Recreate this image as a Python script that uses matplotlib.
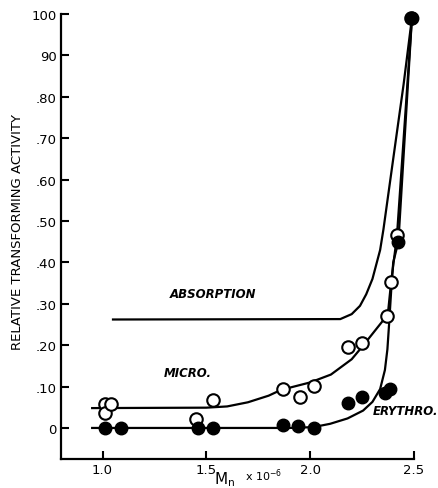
import matplotlib
matplotlib.use("Agg")
import matplotlib.pyplot as plt

# Data points
micro_x = [1.01, 1.01, 1.04, 1.45, 1.53, 1.87, 1.95, 2.02, 2.18, 2.25, 2.37, 2.39, 2.42, 2.485]
micro_y = [5.8, 3.6, 5.8, 2.2, 6.7, 9.5, 7.5, 10.2, 19.5, 20.5, 27.0, 35.2, 46.6, 99.0]
ery_x = [1.01, 1.09, 1.46, 1.53, 1.87, 1.94, 2.02, 2.18, 2.25, 2.36, 2.385, 2.425, 2.49]
ery_y = [0.0, 0.0, 0.0, 0.0, 0.6, 0.5, 0.0, 6.0, 7.5, 8.5, 9.3, 45.0, 99.0]

# Fitted curves
abs_cx = [1.045, 2.145, 2.20, 2.24, 2.27, 2.30, 2.337, 2.353, 2.40, 2.45, 2.49]
abs_cy = [26.2, 26.3, 27.5, 29.5, 32.3, 36.0, 43.0, 48.0, 65.0, 83.0, 99.0]
micro_cx = [0.95, 1.5, 1.6, 1.7, 1.8, 1.86, 2.0, 2.1, 2.2, 2.255, 2.32, 2.374, 2.39, 2.418, 2.49]
micro_cy = [4.8, 4.9, 5.2, 6.2, 7.8, 9.2, 11.0, 12.9, 16.6, 19.9, 24.0, 27.4, 35.3, 46.4, 99.0]
ery_cx = [0.95, 1.9, 2.015, 2.096, 2.18, 2.255, 2.30, 2.337, 2.36, 2.372, 2.38, 2.39, 2.40, 2.425, 2.49]
ery_cy = [0.0, 0.0, 0.2, 1.0, 2.3, 4.2, 6.3, 9.4, 14.0, 19.0, 25.0, 33.0, 40.0, 45.0, 99.0]

yticks = [0, 10, 20, 30, 40, 50, 60, 70, 80, 90, 100]
yticklabels = ['0', '.10', '.20', '.30', '.40', '.50', '.60', '.70', '.80', '90', '100']
xticks = [1.0, 1.5, 2.0, 2.5]
xticklabels = ['1.0', '1.5', '2.0', '2.5']

fig = plt.figure(figsize=(4.39, 4.89), dpi=100)
ax = fig.add_axes([0.139, 0.0593, 0.804, 0.910])

lw = 1.6
ax.plot(abs_cx, abs_cy, color='black', lw=lw, solid_capstyle='butt', clip_on=False)
ax.plot(micro_cx, micro_cy, color='black', lw=lw, clip_on=False)
ax.plot(ery_cx, ery_cy, color='black', lw=lw, clip_on=False)

ax.plot(micro_x, micro_y, 'o', ms=9, mfc='white', mec='black', mew=1.5, clip_on=False, zorder=3)
ax.plot(ery_x, ery_y, 'o', ms=9, mfc='black', mec='black', mew=1.0, clip_on=False, zorder=4)

ax.set_xlim(0.8, 2.5)
ax.set_ylim(-7.5, 100)

for s in ['top', 'right']:
    ax.spines[s].set_visible(False)
for s in ['left', 'bottom']:
    ax.spines[s].set_linewidth(1.6)

ax.set_yticks(yticks)
ax.set_yticklabels(yticklabels)
ax.set_xticks(xticks)
ax.set_xticklabels(xticklabels)
ax.tick_params(axis='both', direction='in', length=6, width=1.5, labelsize=9.5, pad=3)

ax.text(1.53, 32.6, 'ABSORPTION', style='italic', fontweight='bold', fontsize=8.5,
        ha='center', va='center')
ax.text(1.41, 13.5, 'MICRO.', style='italic', fontweight='bold', fontsize=8.5,
        ha='center', va='center')
ax.text(2.30, 4.3, 'ERYTHRO.', style='italic', fontweight='bold', fontsize=8.5,
        ha='left', va='center')

fig.text(0.04, 0.525, 'RELATIVE TRANSFORMING ACTIVITY', rotation=90, fontsize=9.5,
         ha='center', va='center')
fig.text(0.512, 0.020, r'$\mathrm{M_n}$', fontsize=11, ha='center', va='center')
fig.text(0.600, 0.028, r'x 10$^{-6}$', fontsize=8, ha='center', va='center')

fig.savefig('out.png', dpi=100)
